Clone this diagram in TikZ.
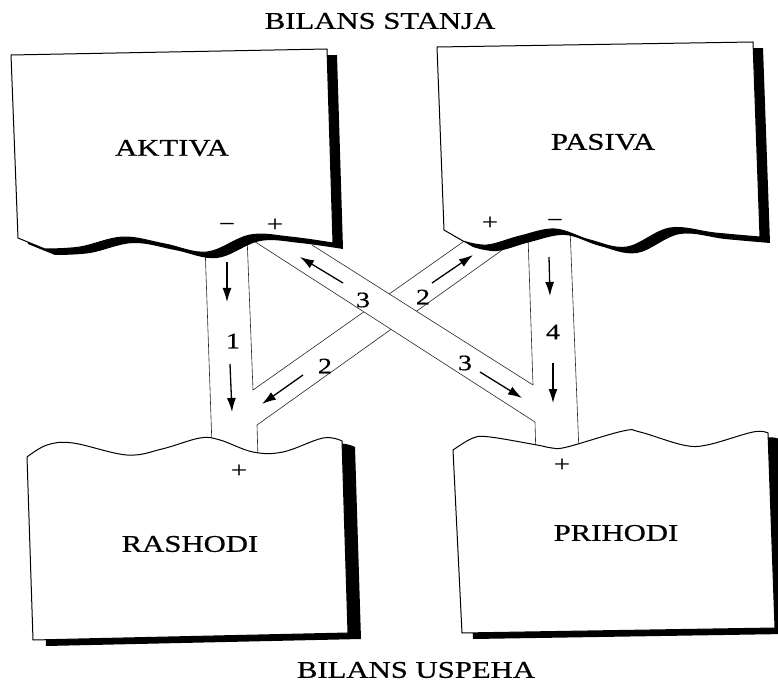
\documentclass[tikz,border=0pt]{standalone}
\usepackage{fontspec}
\setmainfont{Liberation Serif}[FakeStretch=1.28,FakeBold=0.6]
\usetikzlibrary{arrows.meta}
\begin{document}
\begin{tikzpicture}[x=1pt,y=-1pt,
  chan/.style={line width=0.6pt, black!85},
  boxedge/.style={fill=white, draw=black, line width=1pt, line join=round},
  shade/.style={fill=black},
  flow/.style={-{Latex[length=14pt,width=9pt]}, line width=1.3pt},
  lbl/.style={font=\fontsize{24}{24}\selectfont, inner sep=0pt},
  num/.style={font=\fontsize{22}{22}\selectfont, inner sep=0pt},
  sgn/.style={font=\fontsize{22}{22}\selectfont, inner sep=0pt}]
\useasboundingbox (0,0) rectangle (778,684);

% channel corner coordinates
\coordinate (c1l0) at (205,245);
\coordinate (c1l1) at (212,446);
\coordinate (c1r0) at (247,236);
\coordinate (j12)  at (253,390);
\coordinate (c2u1) at (470,237);
\coordinate (j2r)  at (257,425);
\coordinate (c2b)  at (258,458);
\coordinate (c2l1) at (512,243);
\coordinate (c3a0) at (246,236);
\coordinate (j3r)  at (535,422);
\coordinate (c3b)  at (536,458);
\coordinate (c3b0) at (312,245);
\coordinate (j34)  at (533,385);
\coordinate (c4l0) at (528,236);
\coordinate (c4r0) at (570,228);
\coordinate (c4r1) at (579,452);

% channels 1, 2, 4
\draw[chan] (c1l0) -- (c1l1);
\draw[chan] (c1r0) -- (j12) -- (c2u1);
\draw[chan] (c2l1) -- (j2r) -- (c2b);
\draw[chan] (c4l0) -- (j34);
\draw[chan] (c4r0) -- (c4r1);
% channel 3 (on top of channel 2)
\fill[white] (c3a0) -- (j3r) -- (j34) -- (c3b0) -- cycle;
\draw[chan] (c3a0) -- (j3r) -- (c3b);
\draw[chan] (c3b0) -- (j34);

% AKTIVA
\def\aktiva{(11,55) -- (327,49) -- (333,243) -- plot[smooth,tension=0.6] coordinates {(333,243)(290,237)(250,235)(207,252)(165,244)(123,237)(80,247)(45,249)} -- (18,238) -- cycle}
\fill[shade,shift={(10,6)}] \aktiva;
\path[boxedge] \aktiva;
% PASIVA
\def\pasiva{(437,47) -- (753,42) -- (760,237) -- plot[smooth,tension=0.6] coordinates {(760,237)(715,233)(670,228)(627,247)(590,240)(555,229)(520,236)(487,245)(463,241)} -- (444,230) -- cycle}
\fill[shade,shift={(10,6)}] \pasiva;
\path[boxedge] \pasiva;
% RASHODI
\def\rashodi{plot[smooth,tension=0.6] coordinates {(27,457)(47,445)(73,443)(127,455)(162,449)(200,438)(220,440)(253,452)(283,452)(323,438)(342,441)} -- (348,633) -- (33,640) -- cycle}
\fill[shade,shift={(13,6)}] \rashodi;
\path[boxedge] \rashodi;
% PRIHODI
\def\prihodi{plot[smooth,tension=0.6] coordinates {(453,450)(473,438)(490,437)(537,445)(552,448)(567,447)(623,431)(640,432)(683,445)(707,445)(753,432)(768,433)} -- (775,628) -- (462,633) -- cycle}
\fill[shade,shift={(11,6)}] \prihodi;
\path[boxedge] \prihodi;

% titles and box labels
\node[lbl] (t1) at (380,21) {BILANS STANJA};
\node[lbl] (t2) at (416,670) {BILANS USPEHA};
\node[lbl] (akt) at (172,148) {AKTIVA};
\node[lbl] (pas) at (603,142) {PASIVA};
\node[lbl] (ras) at (190,544) {RASHODI};
\node[lbl] (pri) at (616,533) {PRIHODI};

% signs
\node[sgn] (am) at (227,227) {−};
\node[sgn] (ap) at (275,225) {+};
\node[sgn] (pp) at (490,223) {+};
\node[sgn] (pm) at (555,223) {−};
\node[sgn] (rp) at (239,471) {+};
\node[sgn] (hp) at (562,465) {+};

% numbers
\node[num] (n1)  at (233,341) {1};
\node[num] (n4)  at (553,332) {4};
\node[num] (n3a) at (363,300) {3};
\node[num] (n3b) at (465,363) {3};
\node[num] (n2a) at (423,297) {2};
\node[num] (n2b) at (325,366) {2};

% arrows
\coordinate (a1s) at (227,262); \coordinate (a1e) at (227,302);
\coordinate (b1s) at (230,364); \coordinate (b1e) at (232,412);
\coordinate (a4s) at (549,257); \coordinate (a4e) at (550,296);
\coordinate (b4s) at (553,363); \coordinate (b4e) at (553,403);
\coordinate (a3s) at (343,283); \coordinate (a3e) at (300,257);
\coordinate (b3s) at (480,372); \coordinate (b3e) at (522,398);
\coordinate (a2s) at (432,283); \coordinate (a2e) at (473,255);
\coordinate (b2s) at (303,375); \coordinate (b2e) at (262,404);
\draw[flow] (a1s) -- (a1e);
\draw[flow] (b1s) -- (b1e);
\draw[flow] (a4s) -- (a4e);
\draw[flow] (b4s) -- (b4e);
\draw[flow] (a3s) -- (a3e);
\draw[flow] (b3s) -- (b3e);
\draw[flow] (a2s) -- (a2e);
\draw[flow] (b2s) -- (b2e);
\end{tikzpicture}
\end{document}
